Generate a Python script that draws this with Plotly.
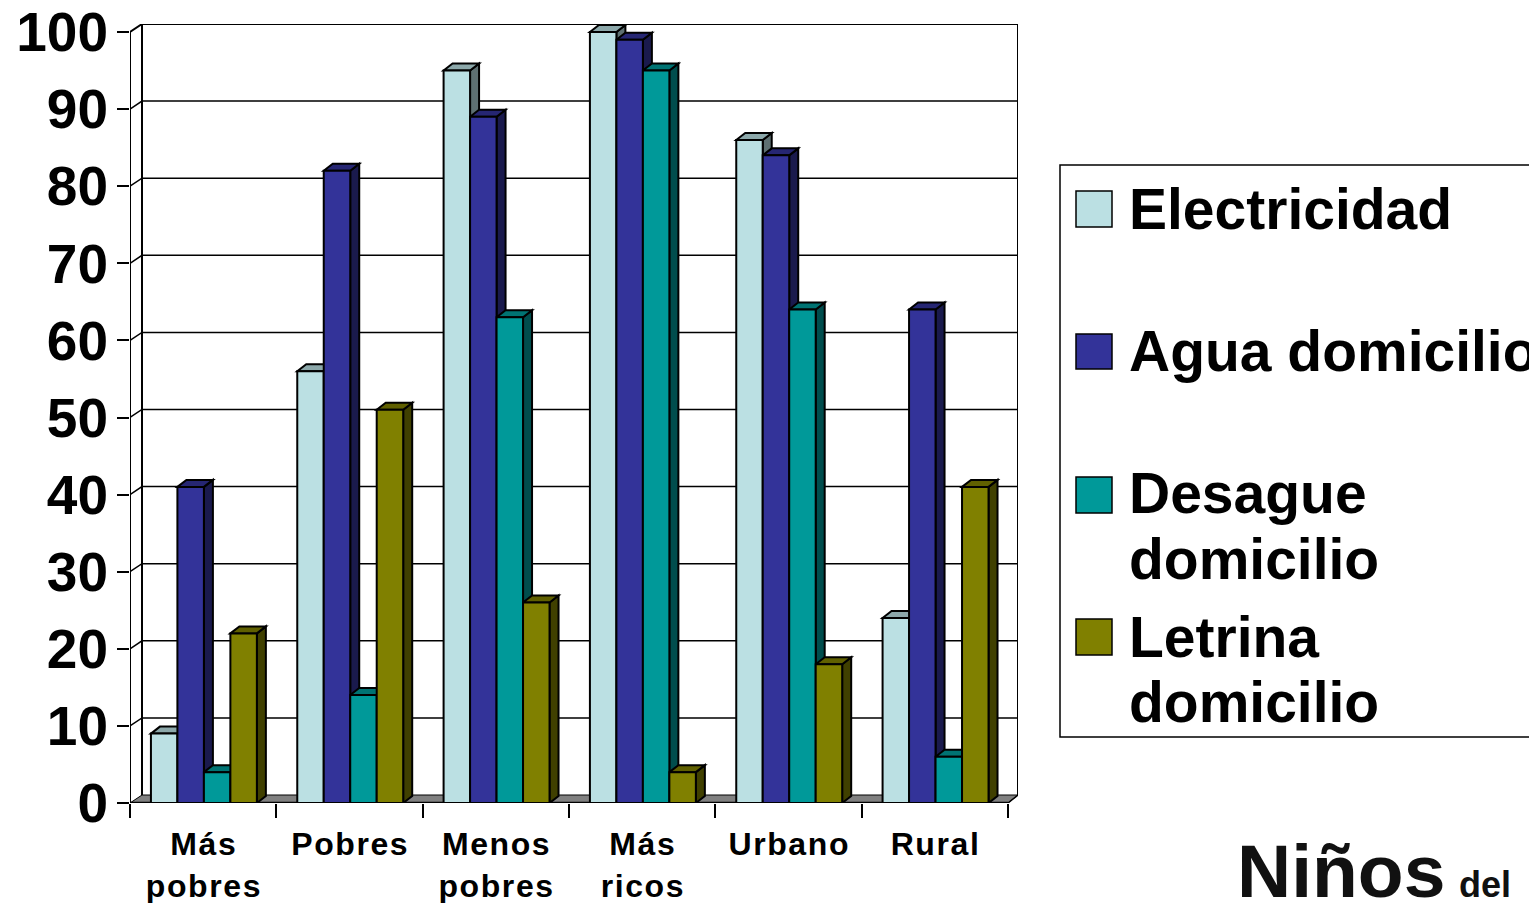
import plotly.graph_objects as go

categories = ["Más<br>pobres", "Pobres", "Menos<br>pobres", "Más<br>ricos", "Urbano", "Rural"]
electricidad = [9, 56, 95, 100, 86, 24]
agua = [41, 82, 89, 99, 84, 64]
desague = [4, 14, 63, 95, 64, 6]
letrina = [22, 51, 26, 4, 18, 41]
y_ticks = [0, 10, 20, 30, 40, 50, 60, 70, 80, 90, 100]

series_names = ["Electricidad", "Agua domicilio", "Desague domicilio", "Letrina domicilio"]
series_values = [electricidad, agua, desague, letrina]
front = ["#BBE0E3", "#333399", "#009999", "#808000"]
top = ["#8CA8AA", "#262673", "#007373", "#606000"]
side = ["#5E7072", "#1A1A4D", "#004D4D", "#404000"]

# pixel frame of the plot
PL, PR, PT, PB = 130, 1018, 24, 803
UX = 146.33
UY = 7.71
xmax = (PR - PL) / UX
ymax = (PB - PT) / UY
wall_dx = 12 / UX
wall_dy = 8 / UY
bar_dx = 9 / UX
bar_dy = 7 / UY
bargap = 0.276
n_series = 4
bw = (1 - bargap) / n_series
xc = [i + 0.505 for i in range(len(categories))]


def px(x):
    return (x - PL) / (PR - PL)


def py(y):
    return (PB - y) / (PB - PT)


def poly(points, fill, width=1.5):
    path = "M " + " L ".join(f"{x:.4f},{y:.4f}" for x, y in points) + " Z"
    return dict(type="path", path=path, xref="x", yref="y", layer="below",
                fillcolor=fill, line=dict(color="black", width=width))


def seg(points, width=1.5):
    path = "M " + " L ".join(f"{x:.4f},{y:.4f}" for x, y in points)
    return dict(type="path", path=path, xref="x", yref="y", layer="below",
                line=dict(color="black", width=width))


shapes = []
# floor
shapes.append(poly([(0, 0), (wall_dx, wall_dy), (xmax, wall_dy), (6, 0)], "#808080", 1))
# gridlines on the wall
for v in y_ticks[1:]:
    w = 2 if v == 100 else 1.5
    shapes.append(seg([(0, v), (wall_dx, v + wall_dy), (xmax, v + wall_dy)], w))
# walls
shapes.append(seg([(wall_dx, wall_dy), (wall_dx, 100 + wall_dy)], 2))
shapes.append(seg([(xmax, wall_dy), (xmax, 100 + wall_dy)], 2))
shapes.append(seg([(6, 0), (xmax, wall_dy)], 1.5))
shapes.append(seg([(0, 0), (0, 100)], 2))
shapes.append(seg([(0, 0), (6, 0)], 2.5))
# depth faces of the bars
for g, c in enumerate(xc):
    for s in range(n_series):
        v = series_values[s][g]
        x0 = c - (1 - bargap) / 2 + s * bw
        x1 = x0 + bw
        shapes.append(poly([(x1, 0), (x1 + bar_dx, bar_dy), (x1 + bar_dx, v + bar_dy), (x1, v)], side[s], 2))
        shapes.append(poly([(x0, v), (x0 + bar_dx, v + bar_dy), (x1 + bar_dx, v + bar_dy), (x1, v)], top[s], 2))

# legend box and swatches
shapes.append(dict(type="rect", xref="paper", yref="paper", x0=px(1060), x1=px(1560), y0=py(737), y1=py(165),
                   line=dict(color="black", width=1.5), fillcolor="white", layer="below"))
swatch_y = [(191, 227), (334, 369), (477, 513), (619, 655)]
for (y0, y1), col in zip(swatch_y, front):
    shapes.append(dict(type="rect", xref="paper", yref="paper", x0=px(1076), x1=px(1112), y0=py(y1), y1=py(y0),
                       line=dict(color="black", width=1.5), fillcolor=col))

annotations = []
legend_lines = [("Electricidad", 209), ("Agua domicilio", 351), ("Desague", 493),
                ("domicilio", 559), ("Letrina", 637), ("domicilio", 702)]
for text, y in legend_lines:
    annotations.append(dict(text=f"<b>{text}</b>", xref="paper", yref="paper", x=px(1127), y=py(y),
                            xanchor="left", yanchor="middle", showarrow=False,
                            font=dict(family="Liberation Sans", size=57, color="black")))
annotations.append(dict(text="<b>Niños</b>", xref="paper", yref="paper", x=px(1235), y=py(871),
                        xanchor="left", yanchor="middle", showarrow=False,
                        font=dict(family="Liberation Sans", size=75, color="#111111")))
annotations.append(dict(text="<b>del</b>", xref="paper", yref="paper", x=px(1457), y=py(885),
                        xanchor="left", yanchor="middle", showarrow=False,
                        font=dict(family="Liberation Sans", size=36, color="#111111")))

fig = go.Figure()
for s in range(n_series):
    fig.add_trace(go.Bar(x=xc, y=series_values[s], name=series_names[s],
                         marker=dict(color=front[s], line=dict(color="black", width=2))))

fig.update_layout(
    width=1529, height=903, autosize=False,
    margin=dict(l=PL, r=1529 - PR, t=PT, b=903 - PB, pad=0),
    paper_bgcolor="white", plot_bgcolor="white",
    barmode="group", bargap=bargap, showlegend=False,
    shapes=shapes, annotations=annotations,
    xaxis=dict(range=[0, xmax], tickvals=xc, ticktext=categories, ticks="", showgrid=False, zeroline=False,
               showline=False, ticklabelstandoff=19, automargin=False,
               tickfont=dict(family="Liberation Sans", size=32, color="black", weight="bold"),
               minor=dict(tickvals=list(range(7)), ticks="outside", ticklen=14, tickwidth=2,
                          tickcolor="black", showgrid=False)),
    yaxis=dict(range=[0, ymax], tickvals=y_ticks, ticks="outside", ticklen=12, tickwidth=2, tickcolor="black",
               showgrid=False, zeroline=False, showline=False, automargin=False, ticklabelstandoff=-2,
               tickfont=dict(family="Liberation Sans", size=55, color="black", weight="bold")),
)

post = """
document.body.style.margin = '0';
document.body.style.overflow = 'hidden';
var st = document.createElement('style');
st.textContent = '.xtick text{letter-spacing:1.6px}';
document.head.appendChild(st);
"""
fig.write_html("out.html", post_script=post, config=dict(displayModeBar=False))
